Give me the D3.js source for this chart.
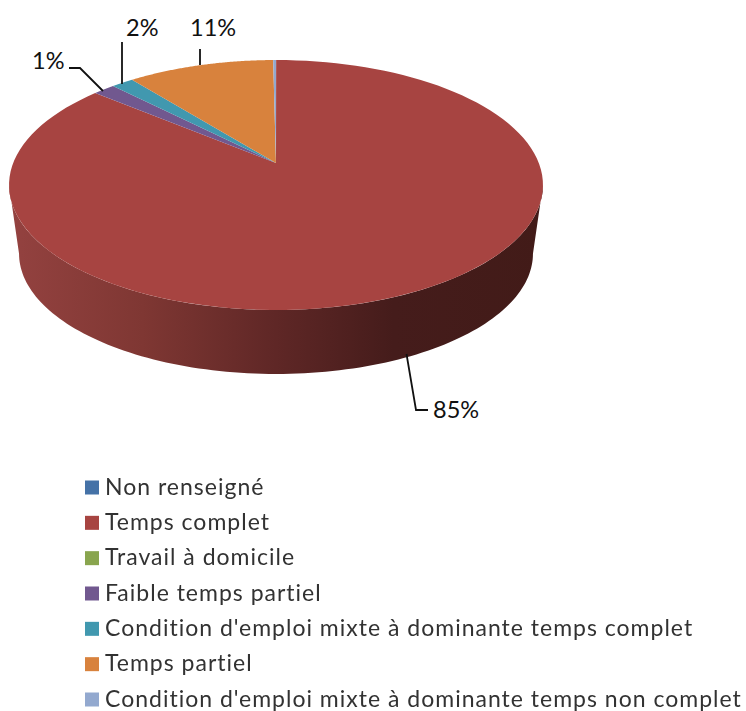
<!DOCTYPE html>
<html><head><meta charset="utf-8">
<script src="https://cdn.jsdelivr.net/npm/d3@7/dist/d3.min.js"></script>
<style>html,body{margin:0;padding:0;background:#fff}svg{display:block}</style>
</head><body><svg id="c" width="746" height="711"></svg>
<script>
const categories=["Non renseigné","Temps complet","Travail à domicile","Faible temps partiel","Condition d'emploi mixte à dominante temps complet","Temps partiel","Condition d'emploi mixte à dominante temps non complet"];
const values=[0.01,85.2,0.01,1.55,1.58,10.4,0.2];
const colors=["#4572a7","#a74441","#89a54e","#71588f","#4198af","#d8823d","#93a9cf"];
const labels=[null,"85%",null,"1%","2%","11%",null];

const svg=d3.select("#c");
const x=d3.scaleLinear().domain([-1,1]).range([9,543]);
const k=-0.176, A=262.8/267, B=121.1;
const project=(a,s=1,y0=163)=>{
  const u=Math.sin(a),w=-Math.cos(a),d=1+k*w;
  return [x(A*s*u/d),y0+B*s*w/d];
};
const pie=d3.pie().sort(null).value(d=>d)(values);
const line=d3.line();
const rim=(a0,a1,s,y0)=>d3.range(0,121).map(i=>project(a0+(a1-a0)*i/120,s,y0));

const defs=svg.append("defs");
const g=defs.append("linearGradient").attr("id","wall").attr("gradientUnits","userSpaceOnUse")
  .attr("x1",9).attr("x2",543).attr("y1",0).attr("y2",0);
[[0,"#944240"],[0.25,"#7f3733"],[0.5,"#5f2726"],[0.72,"#451c1b"],[1,"#421b18"]]
  .forEach(s=>g.append("stop").attr("offset",s[0]).attr("stop-color",s[1]));
defs.append("filter").attr("id","soft").attr("x","-2%").attr("y","-20%").attr("width","104%").attr("height","140%")
  .append("feGaussianBlur").attr("stdDeviation",0.45);

const a0=Math.PI/2+0.177,a1=Math.PI*1.5-0.177;
const rimTop=rim(a0,a1,1,163);
const rimBot=rim(a1,a0,0.9625,232.5);
svg.append("path").attr("d",line(rimTop.concat(rimBot))+"Z").attr("fill","url(#wall)");

pie.forEach((d,i)=>{
  if(d.endAngle-d.startAngle<0.001)return;
  const pts=[[x(0),163]].concat(rim(d.startAngle,d.endAngle,1,163));
  svg.append("path").attr("d",line(pts)+"Z").attr("fill",colors[i]);
});

const lab="Lato,'Open Sans',sans-serif";
const leaders=[
 {i:1,pts:[[406.5,354],[416,410],[428,410]],x:433,y:418},
 {i:3,pts:[[103,91],[80,68],[69,68]],x:32,y:69},
 {i:4,pts:[[122,84],[122,42]],x:126,y:36},
 {i:5,pts:[[200,65],[200,49]],x:190,y:36}
];
leaders.forEach(l=>{
  svg.append("path").attr("d",line(l.pts)).attr("fill","none").attr("stroke","#111").attr("stroke-width",1.8);
  svg.append("text").attr("x",l.x).attr("y",l.y).attr("font-family",lab).attr("font-size",23.5).attr("fill","#111").text(labels[l.i]);
});

const ly=d3.scalePoint().domain(categories).range([487.5,699.5]);
const leg=svg.append("g").selectAll("g").data(categories).join("g").attr("transform",d=>`translate(85,${ly(d)})`);
leg.append("rect").attr("y",-7).attr("width",14).attr("height",14).attr("fill",(d,i)=>colors[i]);
leg.append("text").attr("x",20).attr("y",7).attr("font-family",lab).attr("font-size",23).attr("letter-spacing",1).attr("fill","#333").attr("filter","url(#soft)").text(d=>d);
</script></body></html>
